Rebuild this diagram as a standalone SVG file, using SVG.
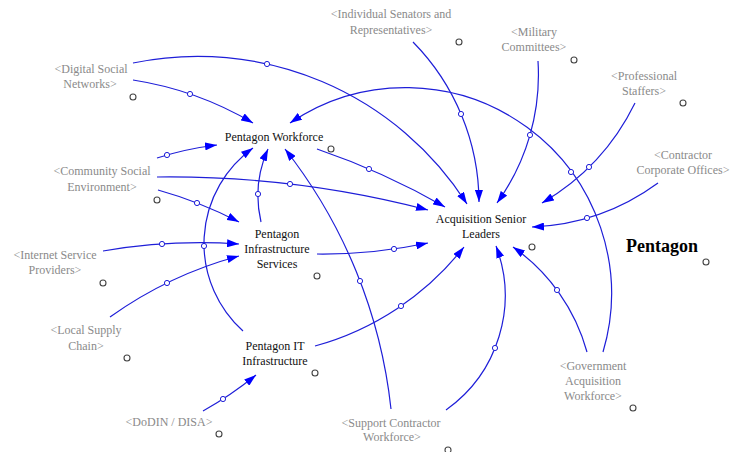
<svg xmlns="http://www.w3.org/2000/svg" width="733" height="452" viewBox="0 0 733 452">
<defs>
<marker id="arr" markerUnits="userSpaceOnUse" viewBox="0 0 12 8" refX="12" refY="4" markerWidth="12" markerHeight="8" orient="auto">
<path d="M0,0 L12,4 L0,8 z" fill="#0000ff"/>
</marker>
<style>
text{font-family:"Liberation Serif","Times New Roman",serif;font-size:12px;text-anchor:middle}
.sh{fill:#8a8a8a}
.v{fill:#111}
.big{fill:#000;font-size:18px;font-weight:bold}
.c path{fill:none;stroke:#1e1ed8;stroke-width:1.2;marker-end:url(#arr)}
.c circle{fill:#fff;stroke:#1e1ed8;stroke-width:1}
.o{fill:none;stroke:#444;stroke-width:1.1}
</style>
</defs>
<rect width="733" height="452" fill="#fff"/>
<g id="connectors" class="c">
<path d="M133,63 A319.4,319.4 0 0,1 467,204"/>
<path d="M133,80 A336.8,336.8 0 0,1 253,123"/>
<path d="M157,158 A327,327 0 0,1 217,145"/>
<path d="M157,177 A1024,1024 0 0,1 428,210"/>
<path d="M158,190 A423,423 0 0,1 239,222"/>
<path d="M103,251 A578,578 0 0,1 239,244"/>
<path d="M110,317 A401,401 0 0,1 239,256"/>
<path d="M243,331 A117.6,117.6 0 0,1 253,148"/>
<path d="M261,222 A114.8,114.8 0 0,1 268,149"/>
<path d="M317,254 A508.5,508.5 0 0,0 428,243"/>
<path d="M317,149 A729.4,729.4 0 0,1 445,207"/>
<path d="M391,409 A509.6,509.6 0 0,0 285,149"/>
<path d="M446,410 A140,140 0 0,0 496,246"/>
<path d="M315,346 A286.5,286.5 0 0,0 464,247"/>
<path d="M203,411 A362.7,362.7 0 0,0 256,375"/>
<path d="M587,352 A189.3,189.3 0 0,0 513,247"/>
<path d="M603,352 A206,206 0 0,0 290,123"/>
<path d="M413,42 A229.6,229.6 0 0,1 479,202"/>
<path d="M538,61 A219,219 0 0,1 497,203"/>
<path d="M635,103 A235.7,235.7 0 0,1 542,203"/>
<path d="M658,183 A229,229 0 0,1 532,227"/>
<circle cx="267" cy="64" r="2.6"/>
<circle cx="190" cy="94" r="2.6"/>
<circle cx="167" cy="155" r="2.6"/>
<circle cx="290" cy="184" r="2.6"/>
<circle cx="197" cy="203" r="2.6"/>
<circle cx="162" cy="244" r="2.6"/>
<circle cx="167" cy="283" r="2.6"/>
<circle cx="204" cy="246" r="2.6"/>
<circle cx="258" cy="194" r="2.6"/>
<circle cx="394" cy="249" r="2.6"/>
<circle cx="369" cy="169" r="2.6"/>
<circle cx="360" cy="281" r="2.6"/>
<circle cx="495" cy="348" r="2.6"/>
<circle cx="401" cy="306" r="2.6"/>
<circle cx="223" cy="399" r="2.6"/>
<circle cx="557" cy="290" r="2.6"/>
<circle cx="571" cy="172" r="2.6"/>
<circle cx="461" cy="114" r="2.6"/>
<circle cx="530" cy="135" r="2.6"/>
<circle cx="589" cy="167" r="2.6"/>
<circle cx="587" cy="218" r="2.6"/>
</g>
<g id="individual-senators">
<text class="sh" x="391" y="18">&lt;Individual Senators and</text>
<text class="sh" x="391" y="34">Representatives&gt;</text>
<circle class="o" cx="459" cy="42" r="3"/>
</g>
<g id="military-committees">
<text class="sh" x="534" y="36">&lt;Military</text>
<text class="sh" x="534" y="51">Committees&gt;</text>
<circle class="o" cx="574" cy="60" r="3"/>
</g>
<g id="professional-staffers">
<text class="sh" x="644" y="80">&lt;Professional</text>
<text class="sh" x="644" y="95">Staffers&gt;</text>
<circle class="o" cx="683" cy="103" r="3"/>
</g>
<g id="contractor-offices">
<text class="sh" x="683" y="159">&lt;Contractor</text>
<text class="sh" x="683" y="174">Corporate Offices&gt;</text>
</g>
<g id="digital-social-networks">
<text class="sh" x="91" y="73">&lt;Digital Social</text>
<text class="sh" x="90" y="88">Networks&gt;</text>
<circle class="o" cx="133" cy="97" r="3"/>
</g>
<g id="pentagon-workforce">
<text class="v" x="274" y="141">Pentagon Workforce</text>
<circle class="o" cx="331" cy="149" r="3"/>
</g>
<g id="community-social">
<text class="sh" x="102" y="175">&lt;Community Social</text>
<text class="sh" x="102" y="191">Environment&gt;</text>
<circle class="o" cx="157" cy="200" r="3"/>
</g>
<g id="acquisition-senior-leaders">
<text class="v" x="481" y="223">Acquisition Senior</text>
<text class="v" x="481" y="238">Leaders</text>
<circle class="o" cx="532" cy="247" r="3"/>
</g>
<g id="pentagon-title">
<text class="big" x="662" y="252">Pentagon</text>
<circle class="o" cx="706" cy="262" r="3"/>
</g>
<g id="pentagon-infrastructure-services">
<text class="v" x="277" y="238">Pentagon</text>
<text class="v" x="277" y="253">Infrastructure</text>
<text class="v" x="277" y="268">Services</text>
<circle class="o" cx="317" cy="276" r="3"/>
</g>
<g id="internet-service-providers">
<text class="sh" x="55" y="259">&lt;Internet Service</text>
<text class="sh" x="55" y="274">Providers&gt;</text>
<circle class="o" cx="103" cy="283" r="3"/>
</g>
<g id="local-supply-chain">
<text class="sh" x="86" y="334">&lt;Local Supply</text>
<text class="sh" x="86" y="350">Chain&gt;</text>
<circle class="o" cx="127" cy="358" r="3"/>
</g>
<g id="pentagon-it-infrastructure">
<text class="v" x="275" y="350">Pentagon IT</text>
<text class="v" x="275" y="365">Infrastructure</text>
<circle class="o" cx="315" cy="373" r="3"/>
</g>
<g id="dodin-disa">
<text class="sh" x="169" y="426">&lt;DoDIN / DISA&gt;</text>
<circle class="o" cx="219" cy="434" r="3"/>
</g>
<g id="support-contractor-workforce">
<text class="sh" x="391" y="427">&lt;Support Contractor</text>
<text class="sh" x="392" y="441">Workforce&gt;</text>
<circle class="o" cx="448" cy="450" r="3"/>
</g>
<g id="government-acquisition-workforce">
<text class="sh" x="593" y="370">&lt;Government</text>
<text class="sh" x="593" y="385">Acquisition</text>
<text class="sh" x="593" y="400">Workforce&gt;</text>
<circle class="o" cx="633" cy="408" r="3"/>
</g>
</svg>
